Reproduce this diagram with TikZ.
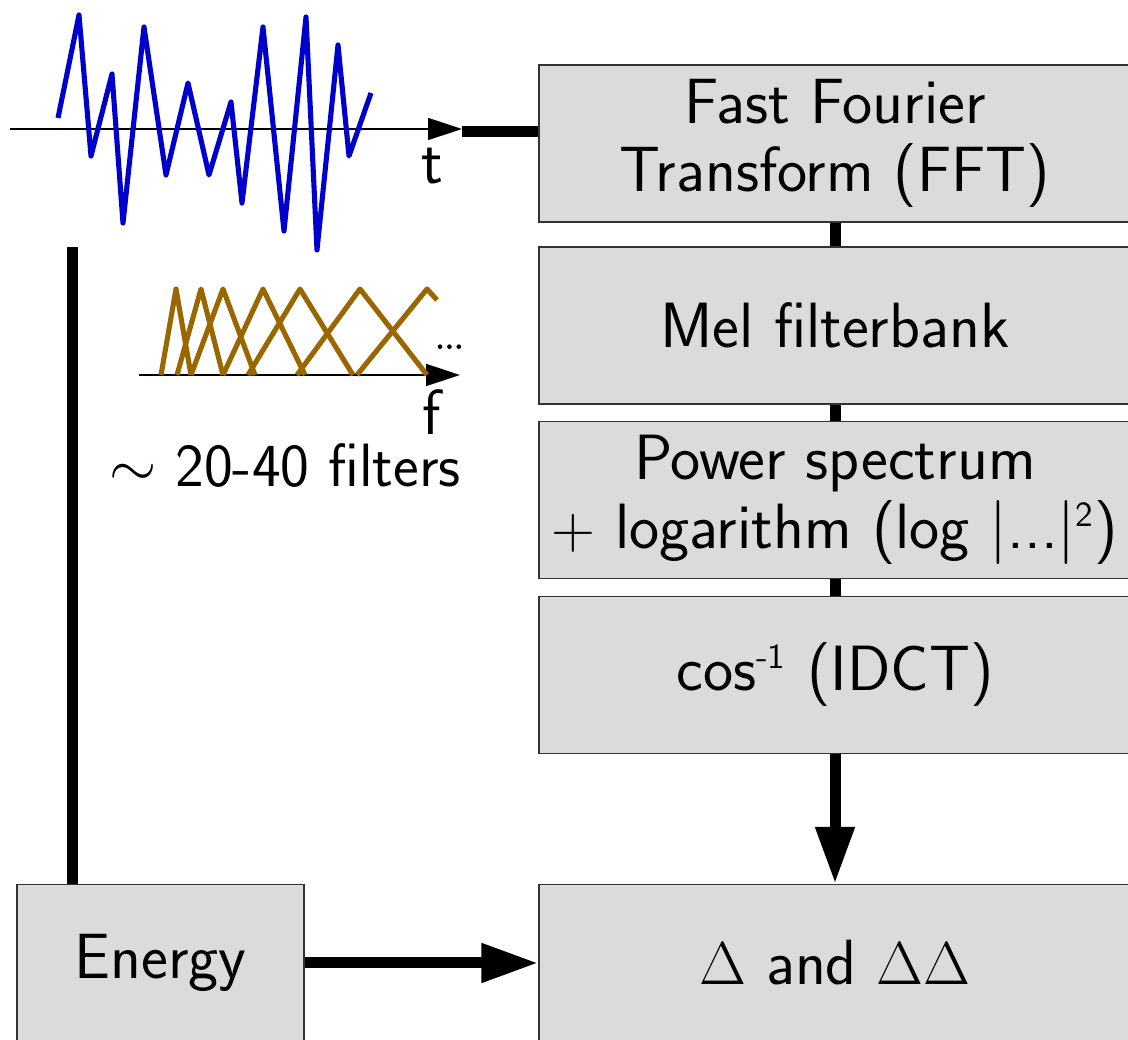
\documentclass[tikz,border=0pt]{standalone}
\usepackage{amsmath,amssymb}
\usepackage{xcolor}
\usepackage{tikz}
\usetikzlibrary{arrows.meta,positioning,calc}

\definecolor{wavecol}{RGB}{0,0,204}
\definecolor{filtcol}{RGB}{153,102,0}
\newcommand{\smallsup}[1]{\textsuperscript{\fontsize{10}{10}\selectfont #1}}

\begin{document}
\begin{tikzpicture}[
  font=\sffamily\fontsize{18.2}{19.5}\selectfont,
  stage/.style={draw=black!80, fill=black!14, align=center, inner sep=0pt, minimum width=5.92cm, minimum height=1.57cm},
  conn/.style={line width=0.11cm},
  axis/.style={line width=0.45pt, -{Triangle[length=3.4mm, width=2.2mm]}},
  wave/.style={draw=wavecol, line width=1.45pt, line join=round},
  filt/.style={draw=filtcol, line width=1.45pt, line join=round},
  lbl/.style={inner sep=0pt},
  >={Triangle[length=5.7mm, width=3.7mm]},
]
\useasboundingbox (0,0) rectangle (11.28,-10.40);

% processing chain
\node[stage] (fft) at (8.35,-1.435) {Fast Fourier\\ Transform (FFT)};
\node[stage] (mel) at (8.35,-3.255) {Mel filterbank};
\node[stage] (pow) at (8.35,-5.00) {Power spectrum\\ $+$ logarithm (log |...|\smallsup{2})};
\node[stage] (idct) at (8.35,-6.75) {cos\smallsup{-1} (IDCT)};
\node[stage] (delta) at (8.35,-9.63) {$\Delta$ and $\Delta\Delta$};
\node[stage, minimum width=2.87cm] (energy) at (1.605,-9.63) {Energy};

\foreach \a/\b in {fft/mel,mel/pow,pow/idct} \draw[conn] (\a) -- (\b);
\draw[conn, ->] (idct) -- (delta);
\draw[conn, ->] (energy) -- (delta);

% signal in time
\draw[axis] (0.10,-1.29) -- (4.62,-1.29);
\draw[wave] plot coordinates {(0.58,-1.18) (0.79,-0.15) (0.91,-1.56) (1.12,-0.74) (1.23,-2.23) (1.44,-0.27) (1.66,-1.75) (1.88,-0.83) (2.09,-1.75) (2.31,-1.02) (2.42,-2.03) (2.63,-0.27) (2.84,-2.31) (3.06,-0.17) (3.17,-2.50) (3.38,-0.45) (3.49,-1.56) (3.71,-0.93)};
\node[lbl] (tlab) at (4.32,-1.665) {t};
\coordinate (tip) at (4.62,-1.32);
\draw[conn] (tip) -- (tip -| fft.west);

% energy branch
\coordinate (etop) at (0.72,-2.47);
\draw[conn] (etop) -- (etop |- energy.north);

% mel filters
\draw[axis] (1.39,-3.75) -- (4.60,-3.75);
\foreach \a/\b/\c in {1.61/1.76/1.91, 1.77/2.01/2.23, 1.91/2.23/2.55, 2.23/2.63/3.05, 2.48/3.00/3.53, 2.97/3.60/4.27}
  \draw[filt] (\a,-3.75) -- (\b,-2.89) -- (\c,-3.75);
\draw[filt] (3.57,-3.75) -- (4.27,-2.89) -- (4.37,-3.00);
\node[lbl, font=\fontsize{16}{16}\selectfont] (dots) at (4.50,-3.47) {\ldots};
\node[lbl] (flab) at (4.32,-4.12) {f};
\node[lbl, font=\sffamily\fontsize{17.4}{19}\selectfont] (nfilt) at (2.85,-4.66) {$\sim$ 20-40 filters};
\end{tikzpicture}
\end{document}
